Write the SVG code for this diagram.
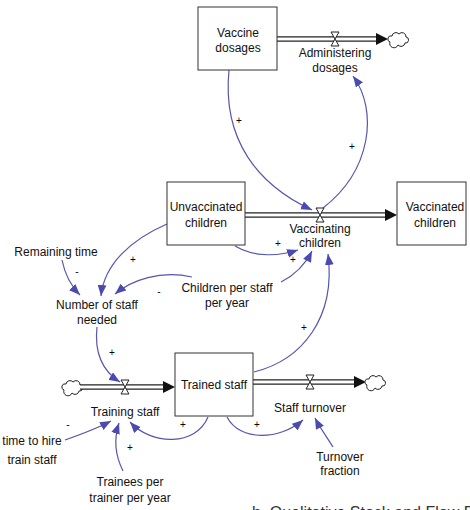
<svg xmlns="http://www.w3.org/2000/svg" width="470" height="510" viewBox="0 0 470 510">
<defs>
<style>
text{font-family:"Liberation Sans",Arial,sans-serif;font-size:12px;fill:#111;text-anchor:middle}
.sign{font-size:10px;fill:#000}
.box{fill:#fff;stroke:#333;stroke-width:1}
.pipeo{fill:none;stroke:#222;stroke-width:5.4}
.pipei{fill:none;stroke:#fff;stroke-width:3}
.valve{fill:#fff;stroke:#222;stroke-width:1}
.cloud{fill:#fff;stroke:#222;stroke-width:1}
.link{fill:none;stroke:#5555b0;stroke-width:1.2;marker-end:url(#la)}
</style>
<marker id="la" viewBox="0 0 10 8" refX="10" refY="4" markerWidth="11" markerHeight="9" markerUnits="userSpaceOnUse" orient="auto">
<path d="M0,0 L10,4 L0,8 Z" fill="#4a4ab0"/>
</marker>
<path id="cl" d="M1,3 a3,3 0 0 1 2,-6 a4,4 0 0 1 7,-2 a4,4 0 0 1 7,3 a3,3 0 0 1 -1,6 a4,4 0 0 1 -7,2 a4,4 0 0 1 -8,-3 z"/>
<path id="vl" d="M-4,-7 H4 L-4,7 H4 Z"/>
<path id="fa" d="M0,-6 L12,0 L0,6 Z"/>
</defs>
<rect width="470" height="510" fill="#fff"/>

<g id="flows">
<path class="pipeo" d="M277,39 H380"/><path class="pipei" d="M277,39 H381"/>
<use href="#fa" x="376" y="39" fill="#111"/>
<use href="#cl" x="389" y="39" class="cloud"/>
<path class="pipeo" d="M245,215 H386"/><path class="pipei" d="M245,215 H387"/>
<use href="#fa" x="385" y="215" fill="#111"/>
<use href="#cl" x="63" y="387" class="cloud"/>
<path class="pipeo" d="M80,387 H164"/><path class="pipei" d="M79,387 H165"/>
<use href="#fa" x="163" y="387" fill="#111"/>
<path class="pipeo" d="M253,382 H356"/><path class="pipei" d="M253,382 H357"/>
<use href="#fa" x="354" y="382" fill="#111"/>
<use href="#cl" x="366" y="382" class="cloud"/>
</g>

<g id="connectors">
<path class="link" d="M229,70 C222,140 258,185 312,210"/>
<path class="link" d="M323,208 C372,170 378,110 353,76"/>
<path class="link" d="M235,246 C255,258 280,256 298,250"/>
<path class="link" d="M281,282 C295,275 305,265 312,251"/>
<path class="link" d="M254,372 C302,360 336,318 328,254"/>
<path class="link" d="M167,224 C130,240 104,265 101,296"/>
<path class="link" d="M62,260 C65,275 71,286 80,295"/>
<path class="link" d="M192,277 C160,270 132,280 115,294"/>
<path class="link" d="M97,327 C94,355 104,372 120,382"/>
<path class="link" d="M208,417 C196,446 152,446 130,422"/>
<path class="link" d="M227,417 C240,442 280,440 303,420"/>
<path class="link" d="M333,447 C327,437 320,428 315,418"/>
<path class="link" d="M65,440 C82,434 98,428 111,421"/>
<path class="link" d="M123,471 C115,455 114,438 119,423"/>
<text class="sign" x="239" y="124">+</text>
<text class="sign" x="352" y="150">+</text>
<text class="sign" x="278" y="247">+</text>
<text class="sign" x="293" y="263">+</text>
<text class="sign" x="304" y="331">+</text>
<text class="sign" x="133" y="263">+</text>
<text class="sign" x="77" y="275">-</text>
<text class="sign" x="159" y="295">-</text>
<text class="sign" x="112" y="356">+</text>
<text class="sign" x="183" y="428">+</text>
<text class="sign" x="257" y="428">+</text>
<text class="sign" x="68" y="428">-</text>
<text class="sign" x="130" y="451">+</text>
</g>

<g id="vaccine-dosages"><rect class="box" x="198" y="7" width="79" height="63"/><text x="238" y="37">Vaccine</text><text x="238" y="52">dosages</text></g>
<g id="administering-dosages"><use href="#vl" x="335" y="39" class="valve"/><text x="335" y="57">Administering</text><text x="335" y="72">dosages</text></g>
<g id="unvaccinated-children"><rect class="box" x="167" y="182" width="78" height="63"/><text x="206" y="211">Unvaccinated</text><text x="206" y="227">children</text></g>
<g id="vaccinating-children"><use href="#vl" x="320" y="215" class="valve"/><text x="320" y="233">Vaccinating</text><text x="320" y="247">children</text></g>
<g id="vaccinated-children"><rect class="box" x="397" y="182" width="69" height="63"/><text x="435" y="211">Vaccinated</text><text x="435" y="227">children</text></g>
<g id="remaining-time"><text x="56" y="256">Remaining time</text></g>
<g id="number-of-staff-needed"><text x="97" y="309">Number of staff</text><text x="97" y="324">needed</text></g>
<g id="children-per-staff"><text x="227" y="292">Children per staff</text><text x="227" y="307">per year</text></g>
<g id="trained-staff"><rect class="box" x="175" y="353" width="78" height="63"/><text x="214" y="389">Trained staff</text></g>
<g id="training-staff"><use href="#vl" x="125" y="387" class="valve"/><text x="125" y="416">Training staff</text></g>
<g id="staff-turnover"><use href="#vl" x="310" y="382" class="valve"/><text x="310" y="412">Staff turnover</text></g>
<g id="turnover-fraction"><text x="340" y="461">Turnover</text><text x="340" y="475">fraction</text></g>
<g id="trainees-per-trainer"><text x="130" y="486">Trainees per</text><text x="130" y="502">trainer per year</text></g>
<g id="time-to-hire"><text x="32" y="445">time to hire</text><text x="32" y="464">train staff</text></g>
<text x="252" y="518" style="font-size:16px;text-anchor:start;fill:#333">b. Qualitative Stock and Flow Di</text>
</svg>
